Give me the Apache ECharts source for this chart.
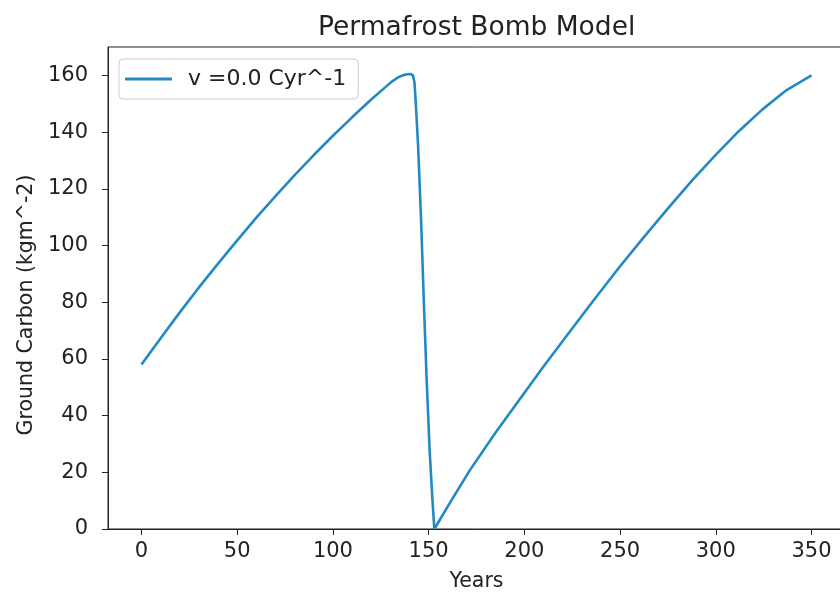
<!DOCTYPE html>
<html>
<head>
<meta charset="utf-8">
<script src="https://cdn.jsdelivr.net/npm/echarts@6/dist/echarts.min.js"></script>
<style>
html,body{margin:0;padding:0;background:#fff;}
#chart{width:840px;height:599px;}
</style>
</head>
<body>
<div id="chart"></div>
<script>
// Years (x) and ground carbon (y)
var years = [0, 10, 20, 30, 40, 50, 60, 70, 80, 90, 100, 110, 120, 128, 131, 134, 136, 138, 140.5, 141.8, 142.6,
             143.3, 144.5, 146, 147.5, 149, 150.5, 152, 153,
             160, 171.3, 185, 197.4, 210, 223.5, 236, 249.6, 262, 275.7, 288, 299.7, 312, 324.4, 337, 350];
var carbon = [58, 67.3, 76.4, 85.2, 93.6, 101.8, 109.8, 117.4, 124.8, 131.9, 138.7, 145.2, 151.5, 156.2, 157.9, 159.3, 159.9, 160.3, 160.5, 160, 157.5,
              150, 135, 110, 80, 52, 28, 10, 0,
              8, 20.5, 34, 45.6, 57.3, 69.4, 80.5, 92.3, 102.6, 113.6, 123.2, 131.8, 140.3, 148, 154.8, 160];
var xTicks = [0, 50, 100, 150, 200, 250, 300, 350];
var yTicks = [0, 20, 40, 60, 80, 100, 120, 140, 160];
var seriesName = 'v =0.0 Cyr^-1';

var points = years.map(function (x, i) { return [x, carbon[i]]; });
var font = 'DejaVu Sans';
var txt = '#222';

var chart = echarts.init(document.getElementById('chart'), null, {renderer: 'canvas'});
chart.setOption({
  animation: false,
  backgroundColor: '#fff',
  title: {
    text: 'Permafrost Bomb Model',
    left: 313, top: 10,
    textStyle: {fontFamily: font, fontSize: 26.5, fontWeight: 'normal', color: txt}
  },
  legend: {
    left: 119, top: 59,
    padding: [9, 12, 9, 6],
    borderColor: '#cccccc', borderWidth: 1, borderRadius: 4,
    backgroundColor: '#fff',
    icon: 'rect', itemWidth: 47, itemHeight: 3,
    textStyle: {fontFamily: font, fontSize: 22, color: txt, padding: [0, 0, 0, 11]},
    data: [seriesName]
  },
  grid: {
    left: 108, top: 47, width: 737, height: 482,
    outerBoundsMode: 'none', containLabel: false,
    show: true, borderColor: '#222', borderWidth: 1, backgroundColor: 'transparent'
  },
  xAxis: {
    type: 'value', min: -17.5, max: 367.5,
    name: 'Years', nameLocation: 'middle', nameGap: 42,
    nameTextStyle: {fontFamily: font, fontSize: 20.5, color: txt},
    axisLine: {show: true, onZero: false, lineStyle: {color: '#222', width: 1}},
    axisTick: {show: true, length: 6, inside: false, customValues: xTicks, lineStyle: {color: '#222'}},
    axisLabel: {customValues: xTicks, fontFamily: font, fontSize: 21, color: txt, margin: 12},
    splitLine: {show: false}
  },
  yAxis: {
    type: 'value', min: 0, max: 170,
    name: 'Ground Carbon (kgm^-2)', nameLocation: 'middle', nameGap: 70,
    nameTextStyle: {fontFamily: font, fontSize: 20.5, color: txt, padding: [0, 34, 0, 0]},
    axisLine: {show: true, onZero: false, lineStyle: {color: '#222', width: 1}},
    axisTick: {show: true, length: 6, inside: false, customValues: yTicks, lineStyle: {color: '#222'}},
    axisLabel: {customValues: yTicks, fontFamily: font, fontSize: 21, color: txt, margin: 20},
    splitLine: {show: false}
  },
  series: [{
    name: seriesName,
    type: 'line',
    data: points,
    showSymbol: false,
    symbol: 'none',
    smooth: false,
    clip: true,
    lineStyle: {color: '#2389c3', width: 2.6},
    itemStyle: {color: '#2389c3'}
  }]
});
</script>
</body>
</html>
